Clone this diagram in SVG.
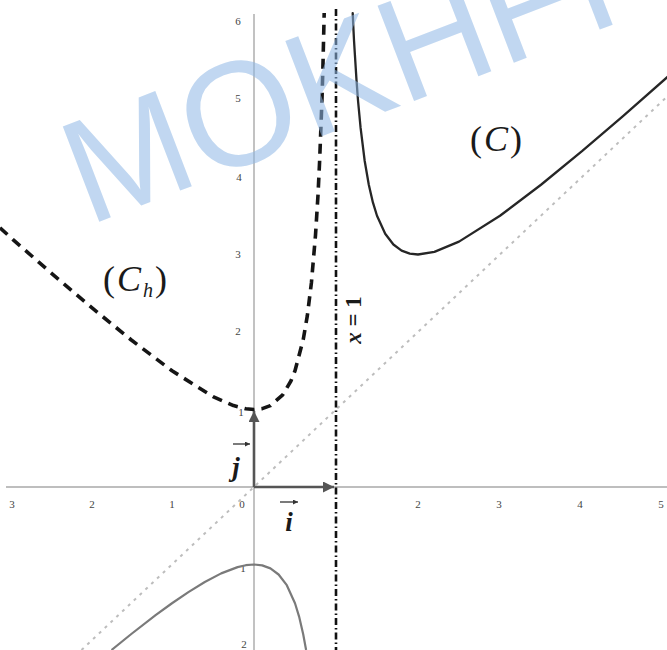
<svg xmlns="http://www.w3.org/2000/svg" width="667" height="650" viewBox="0 0 667 650">
<defs>
<style>
.axis{stroke:#a8a8a8;stroke-width:1.4;fill:none}
.tick{font-family:"Liberation Serif",serif;font-size:11px;fill:#444;text-anchor:middle}
.curveC{stroke:#262626;stroke-width:2.3;fill:none;stroke-linejoin:round;stroke-linecap:round}
.curveLow{stroke:#7a7a7a;stroke-width:2.2;fill:none;stroke-linejoin:round}
.curveH{stroke:#151515;stroke-width:3.6;fill:none;stroke-dasharray:10 7;stroke-linejoin:round}
.asym{stroke:#111;stroke-width:2.6;fill:none;stroke-dasharray:7 3 1.5 3}
.diag{stroke:#bdbdbd;stroke-width:2;fill:none;stroke-dasharray:3 5}
.vec{stroke:#555;stroke-width:2.6;fill:none}
.small{stroke:#333;stroke-width:1.3;fill:none}
.lbl{font-family:"Liberation Serif",serif;fill:#1a1a1a}
.wm{font-family:"Liberation Sans",sans-serif;font-size:148px;fill:#8fb8e6;opacity:0.55}
</style>
<marker id="ah" viewBox="0 0 10 10" refX="10" refY="5" markerWidth="18" markerHeight="11" markerUnits="userSpaceOnUse" orient="auto">
<path d="M0,0 L10,5 L0,10 z" fill="#555"/>
</marker>
<marker id="ahs" viewBox="0 0 10 10" refX="10" refY="5" markerWidth="6" markerHeight="5" markerUnits="userSpaceOnUse" orient="auto">
<path d="M0,0 L10,5 L0,10 z" fill="#333"/>
</marker>
</defs>
<rect width="667" height="650" fill="#ffffff"/>

<g id="axes">
<line class="axis" x1="6" y1="487" x2="667" y2="487"/>
<line class="axis" x1="254" y1="14" x2="254" y2="650"/>
</g>

<g id="ticks">
<text class="tick" x="12" y="508">3</text>
<text class="tick" x="92" y="508">2</text>
<text class="tick" x="172" y="508">1</text>
<text class="tick" x="242" y="508">0</text>
<text class="tick" x="418" y="508">2</text>
<text class="tick" x="499" y="508">3</text>
<text class="tick" x="580" y="508">4</text>
<text class="tick" x="661" y="508">5</text>
<text class="tick" x="238" y="25">6</text>
<text class="tick" x="238" y="102">5</text>
<text class="tick" x="239" y="181">4</text>
<text class="tick" x="238" y="258">3</text>
<text class="tick" x="238" y="335">2</text>
<text class="tick" x="241" y="416">1</text>
<text class="tick" x="243" y="572">1</text>
<text class="tick" x="244" y="648">2</text>
</g>

<g id="connectors">
<line id="asymptote-oblique" class="diag" x1="81.5" y1="650" x2="667" y2="96.6"/>
<line id="asymptote-vertical" class="asym" x1="336" y1="9" x2="336" y2="650"/>
<path id="curve-C-upper" class="curveC" d="M352.7,13.1 L353.2,24.2 L354.0,40.2 L354.9,54.7 L356.5,80.1 L358.1,101.5 L360.6,127.9 L364.7,161.0 L368.8,184.7 L372.9,202.4 L377,215.75 L385.2,233.8 L393.4,244.5 L401.6,250.6 L409.8,253.6 L418,254.5 L434.4,251.9 L459,241.6 L500,215.75 L541,184.75 L582,151.2 L623,116.1 L669.7,75"/>
<path id="curve-C-lower" class="curveLow" d="M111.5,650 L131,634.25 L155.6,615.2 L172,603.25 L188.4,592.1 L204.8,582 L221.2,573.4 L237.6,567.1 L245.8,565.2 L254,564.5 L262.2,565.4 L270.4,568.4 L278.6,574.5 L286.8,585.2 L295,603.25 L299.1,616.6 L303.2,634.25 L306.1,650"/>
<path id="curve-Ch" class="curveH" d="M0,227.8 L13,239.6 L49,271.1 L60,280.6 L90,306.2 L131,339.75 L172,370.75 L213,396.6 L233.5,405.6 L245.8,408.8 L254,409.5 L262.2,408.6 L270.4,405.6 L282.7,394.9 L290.9,381 L295,370.75 L303.2,339.75 L307.3,315.9 L311.4,282.9 L315.5,235.1 L318,195.2 L319.6,161.5 L321.2,120 L322.1,95.5 L322.9,67.7 L324.2,13"/>
<line id="vec-j" class="vec" x1="254" y1="487" x2="254" y2="411" marker-end="url(#ah)"/>
<line id="vec-i" class="vec" x1="254" y1="487" x2="334" y2="487" marker-end="url(#ah)"/>
</g>

<g id="label-j">
<line class="small" x1="233" y1="444" x2="250" y2="444" marker-end="url(#ahs)"/>
<text class="lbl" x="236" y="476" font-size="27" font-style="italic" font-weight="bold" text-anchor="middle">j</text>
</g>
<g id="label-i">
<line class="small" x1="280" y1="502" x2="298" y2="502" marker-end="url(#ahs)"/>
<text class="lbl" x="289" y="531" font-size="27" font-style="italic" font-weight="bold" text-anchor="middle">i</text>
</g>

<g id="label-C">
<text class="lbl" x="470" y="151" font-size="36" letter-spacing="2">(<tspan font-style="italic">C</tspan>)</text>
</g>
<g id="label-Ch">
<text class="lbl" x="103" y="291" font-size="36" letter-spacing="2">(<tspan font-style="italic">C</tspan><tspan font-style="italic" font-size="20" dy="6">h</tspan><tspan dy="-6">)</tspan></text>
</g>
<g id="label-x1">
<text class="lbl" x="353" y="320" font-size="23" font-weight="bold" text-anchor="middle" dominant-baseline="central" transform="rotate(-90 353 320)"><tspan font-style="italic">x</tspan> = 1</text>
</g>

<g id="watermark">
<text class="wm" transform="translate(88,226) rotate(-21)">MOKHFI</text>
</g>
</svg>
